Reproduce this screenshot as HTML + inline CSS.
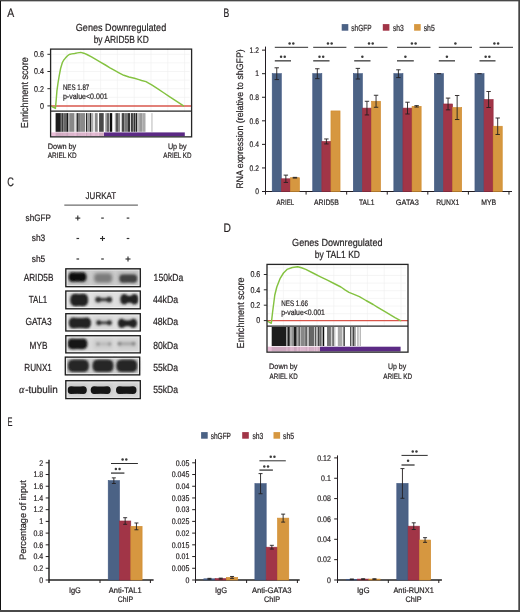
<!DOCTYPE html><html><head><meta charset="utf-8"><style>html,body{margin:0;padding:0;background:#fff;}svg{display:block;font-family:"Liberation Sans",sans-serif;}</style></head><body>
<svg width="520" height="612" viewBox="0 0 520 612" text-rendering="geometricPrecision">
<defs><filter id="bl1" x="-30%" y="-60%" width="160%" height="220%"><feGaussianBlur stdDeviation="1.1"/></filter><filter id="bl2" x="-30%" y="-60%" width="160%" height="220%"><feGaussianBlur stdDeviation="1.6"/></filter><filter id="bl05"><feGaussianBlur stdDeviation="0.35"/></filter></defs>
<rect x="0" y="0" width="520" height="612" fill="#ffffff"/>
<filter id="soft" x="0" y="0" width="520" height="612" filterUnits="userSpaceOnUse"><feGaussianBlur stdDeviation="0.3"/></filter><g filter="url(#soft)">
<text x="7.2" y="17.2" font-size="12.3" text-anchor="start" fill="#231f20" stroke="#231f20" stroke-width="0.2" textLength="6.97" lengthAdjust="spacingAndGlyphs">A</text>
<text x="223.4" y="17.2" font-size="12.3" text-anchor="start" fill="#231f20" stroke="#231f20" stroke-width="0.2" textLength="5.77" lengthAdjust="spacingAndGlyphs">B</text>
<text x="7.2" y="185.7" font-size="12.3" text-anchor="start" fill="#231f20" stroke="#231f20" stroke-width="0.2" textLength="6.62" lengthAdjust="spacingAndGlyphs">C</text>
<text x="223.4" y="231.9" font-size="12.3" text-anchor="start" fill="#231f20" stroke="#231f20" stroke-width="0.2" textLength="7.42" lengthAdjust="spacingAndGlyphs">D</text>
<text x="7.5" y="425.8" font-size="12.3" text-anchor="start" fill="#231f20" stroke="#231f20" stroke-width="0.2" textLength="4.98" lengthAdjust="spacingAndGlyphs">E</text>
<line x1="50.6" y1="54.3" x2="189.6" y2="54.3" stroke="#eeeeee" stroke-width="0.6"/>
<line x1="50.6" y1="62.9" x2="189.6" y2="62.9" stroke="#eeeeee" stroke-width="0.6"/>
<line x1="50.6" y1="71.5" x2="189.6" y2="71.5" stroke="#eeeeee" stroke-width="0.6"/>
<line x1="50.6" y1="80.1" x2="189.6" y2="80.1" stroke="#eeeeee" stroke-width="0.6"/>
<line x1="50.6" y1="88.7" x2="189.6" y2="88.7" stroke="#eeeeee" stroke-width="0.6"/>
<line x1="50.6" y1="97.3" x2="189.6" y2="97.3" stroke="#eeeeee" stroke-width="0.6"/>
<line x1="67" y1="49.1" x2="67" y2="111.1" stroke="#eeeeee" stroke-width="0.6"/>
<line x1="83.8" y1="49.1" x2="83.8" y2="111.1" stroke="#eeeeee" stroke-width="0.6"/>
<line x1="100.6" y1="49.1" x2="100.6" y2="111.1" stroke="#eeeeee" stroke-width="0.6"/>
<line x1="117.4" y1="49.1" x2="117.4" y2="111.1" stroke="#eeeeee" stroke-width="0.6"/>
<line x1="134.2" y1="49.1" x2="134.2" y2="111.1" stroke="#eeeeee" stroke-width="0.6"/>
<line x1="151" y1="49.1" x2="151" y2="111.1" stroke="#eeeeee" stroke-width="0.6"/>
<line x1="167.8" y1="49.1" x2="167.8" y2="111.1" stroke="#eeeeee" stroke-width="0.6"/>
<line x1="184.6" y1="49.1" x2="184.6" y2="111.1" stroke="#eeeeee" stroke-width="0.6"/>
<line x1="50.6" y1="106" x2="191.6" y2="106" stroke="#d9564c" stroke-width="1.3"/>
<polyline points="51,106 53,107.2 55.4,108.4 56.2,100 56.9,91.2 58,83 59.2,75.8 60.6,68.5 62.3,62.7 63.8,60 65.4,58.1 67.3,56 69.2,54.5 71.8,53.9 74.6,53.5 77.5,52.9 80.8,52.4 83.8,53.2 86.9,54.5 91.5,56.9 96.2,59.6 100.8,62.3 105.4,65 110,67.8 114.6,70.4 119,72.8 123.8,75.3 129,77 134.4,78.3 139,79.6 141.6,80.5 146,81.6 149,83.3 151.7,84.8 157.5,88.6 163.3,92.5 169,96.3 174.8,100.1 179,102.9 183.5,105.9" fill="none" stroke="#84c241" stroke-width="1.45" stroke-linejoin="round" stroke-linecap="round"/>
<rect x="55.6" y="113.1" width="5.2" height="18.7" fill="#1c1c1c"/>
<rect x="60.8" y="113.1" width="0.8" height="18.7" fill="#555"/>
<rect x="61.6" y="113.1" width="1.9" height="18.7" fill="#3a3a3a"/>
<rect x="63.5" y="113.1" width="2.9" height="18.7" fill="#666"/>
<rect x="66.4" y="113.1" width="1.9" height="18.7" fill="#161616"/>
<rect x="68.3" y="113.1" width="1" height="18.7" fill="#aaa"/>
<rect x="69.3" y="113.1" width="4.8" height="18.7" fill="#888"/>
<rect x="74.1" y="113.1" width="1.5" height="18.7" fill="#c8c8c8"/>
<rect x="76.5" y="113.1" width="1.5" height="18.7" fill="#333"/>
<rect x="78" y="113.1" width="2.8" height="18.7" fill="#777"/>
<rect x="80.8" y="113.1" width="4.4" height="18.7" fill="#8a8a8a"/>
<rect x="86.1" y="113.1" width="1" height="18.7" fill="#111"/>
<rect x="87.1" y="113.1" width="2.9" height="18.7" fill="#999"/>
<rect x="90" y="113.1" width="1.4" height="18.7" fill="#2a2a2a"/>
<rect x="91.4" y="113.1" width="1.9" height="18.7" fill="#aaa"/>
<rect x="94.8" y="113.1" width="2.9" height="18.7" fill="#888"/>
<rect x="99.1" y="113.1" width="0.9" height="18.7" fill="#444"/>
<rect x="100" y="113.1" width="3.7" height="18.7" fill="#484848"/>
<rect x="105.3" y="113.1" width="1.6" height="18.7" fill="#999"/>
<rect x="106.9" y="113.1" width="2.6" height="18.7" fill="#666"/>
<rect x="110" y="113.1" width="2.2" height="18.7" fill="#111"/>
<rect x="114.8" y="113.1" width="1.1" height="18.7" fill="#aaa"/>
<rect x="115.9" y="113.1" width="2.1" height="18.7" fill="#555"/>
<rect x="118" y="113.1" width="2.1" height="18.7" fill="#888"/>
<rect x="121.7" y="113.1" width="2.6" height="18.7" fill="#444"/>
<rect x="124.3" y="113.1" width="3.7" height="18.7" fill="#777"/>
<rect x="128" y="113.1" width="2.2" height="18.7" fill="#333"/>
<rect x="131.2" y="113.1" width="1.6" height="18.7" fill="#111"/>
<rect x="132.8" y="113.1" width="1.1" height="18.7" fill="#888"/>
<rect x="133.9" y="113.1" width="1" height="18.7" fill="#111"/>
<rect x="134.9" y="113.1" width="1.1" height="18.7" fill="#888"/>
<rect x="136" y="113.1" width="1" height="18.7" fill="#222"/>
<rect x="137" y="113.1" width="2.2" height="18.7" fill="#bbb"/>
<rect x="139.2" y="113.1" width="3.1" height="18.7" fill="#999"/>
<rect x="142.3" y="113.1" width="3.2" height="18.7" fill="#aaa"/>
<rect x="151.3" y="113.1" width="1.3" height="18.7" fill="#c8c8c8"/>
<rect x="51.2" y="132.4" width="52.8" height="3.8" fill="#e9bdd7"/>
<rect x="55.6" y="132.4" width="5.2" height="3.8" fill="#1c1c1c" opacity="0.13"/>
<rect x="60.8" y="132.4" width="0.8" height="3.8" fill="#555" opacity="0.13"/>
<rect x="61.6" y="132.4" width="1.9" height="3.8" fill="#3a3a3a" opacity="0.13"/>
<rect x="63.5" y="132.4" width="2.9" height="3.8" fill="#666" opacity="0.13"/>
<rect x="66.4" y="132.4" width="1.9" height="3.8" fill="#161616" opacity="0.13"/>
<rect x="68.3" y="132.4" width="1" height="3.8" fill="#aaa" opacity="0.13"/>
<rect x="69.3" y="132.4" width="4.8" height="3.8" fill="#888" opacity="0.13"/>
<rect x="74.1" y="132.4" width="1.5" height="3.8" fill="#c8c8c8" opacity="0.13"/>
<rect x="76.5" y="132.4" width="1.5" height="3.8" fill="#333" opacity="0.13"/>
<rect x="78" y="132.4" width="2.8" height="3.8" fill="#777" opacity="0.13"/>
<rect x="80.8" y="132.4" width="4.4" height="3.8" fill="#8a8a8a" opacity="0.13"/>
<rect x="86.1" y="132.4" width="1" height="3.8" fill="#111" opacity="0.13"/>
<rect x="87.1" y="132.4" width="2.9" height="3.8" fill="#999" opacity="0.13"/>
<rect x="90" y="132.4" width="1.4" height="3.8" fill="#2a2a2a" opacity="0.13"/>
<rect x="91.4" y="132.4" width="1.9" height="3.8" fill="#aaa" opacity="0.13"/>
<rect x="94.8" y="132.4" width="2.9" height="3.8" fill="#888" opacity="0.13"/>
<rect x="99.1" y="132.4" width="0.9" height="3.8" fill="#444" opacity="0.13"/>
<rect x="100" y="132.4" width="3.7" height="3.8" fill="#484848" opacity="0.13"/>
<rect x="104" y="132.4" width="80.8" height="3.8" fill="#5b2c85"/>
<rect x="50.6" y="49.1" width="141" height="87.75" fill="none" stroke="#262626" stroke-width="1.3"/>
<line x1="50.6" y1="111.1" x2="191.6" y2="111.1" stroke="#262626" stroke-width="1.4"/>
<line x1="47.4" y1="54.3" x2="50.6" y2="54.3" stroke="#2b2b2b" stroke-width="1"/>
<text x="43.9" y="57.15" font-size="8.48" text-anchor="end" fill="#231f20" stroke="#231f20" stroke-width="0.2" textLength="9.9" lengthAdjust="spacingAndGlyphs">0.6</text>
<line x1="47.4" y1="71.5" x2="50.6" y2="71.5" stroke="#2b2b2b" stroke-width="1"/>
<text x="43.9" y="74.35" font-size="8.48" text-anchor="end" fill="#231f20" stroke="#231f20" stroke-width="0.2" textLength="9.9" lengthAdjust="spacingAndGlyphs">0.4</text>
<line x1="47.4" y1="88.7" x2="50.6" y2="88.7" stroke="#2b2b2b" stroke-width="1"/>
<text x="43.9" y="91.55" font-size="8.48" text-anchor="end" fill="#231f20" stroke="#231f20" stroke-width="0.2" textLength="9.9" lengthAdjust="spacingAndGlyphs">0.2</text>
<line x1="47.4" y1="105.9" x2="50.6" y2="105.9" stroke="#2b2b2b" stroke-width="1"/>
<text x="43.9" y="108.75" font-size="8.48" text-anchor="end" fill="#231f20" stroke="#231f20" stroke-width="0.2" textLength="3.96" lengthAdjust="spacingAndGlyphs">0</text>
<text x="62.9" y="89.6" font-size="7.95" text-anchor="start" fill="#231f20" stroke="#231f20" stroke-width="0.2" textLength="26.4" lengthAdjust="spacingAndGlyphs">NES 1.87</text>
<text x="62.9" y="98.6" font-size="7.95" text-anchor="start" fill="#231f20" stroke="#231f20" stroke-width="0.2" textLength="44.87" lengthAdjust="spacingAndGlyphs">p-value&lt;0.001</text>
<text x="75.8" y="31.3" font-size="10.28" text-anchor="start" fill="#231f20" stroke="#231f20" stroke-width="0.2" textLength="90.4" lengthAdjust="spacingAndGlyphs">Genes Downregulated</text>
<text x="93.7" y="43" font-size="10.28" text-anchor="start" fill="#231f20" stroke="#231f20" stroke-width="0.2" textLength="55.08" lengthAdjust="spacingAndGlyphs">by ARID5B KD</text>
<text x="47.8" y="148.8" font-size="7.84" text-anchor="start" fill="#231f20" stroke="#231f20" stroke-width="0.2" textLength="28.5" lengthAdjust="spacingAndGlyphs">Down by</text>
<text x="47.8" y="157.7" font-size="7.84" text-anchor="start" fill="#231f20" stroke="#231f20" stroke-width="0.2" textLength="28.9" lengthAdjust="spacingAndGlyphs">ARIEL KD</text>
<text x="167.9" y="148.8" font-size="7.84" text-anchor="start" fill="#231f20" stroke="#231f20" stroke-width="0.2" textLength="18.82" lengthAdjust="spacingAndGlyphs">Up by</text>
<text x="163.3" y="157.7" font-size="7.84" text-anchor="start" fill="#231f20" stroke="#231f20" stroke-width="0.2" textLength="28.2" lengthAdjust="spacingAndGlyphs">ARIEL KD</text>
<text x="28" y="92.7" font-size="10.18" text-anchor="middle" fill="#231f20" stroke="#231f20" stroke-width="0.2" transform="rotate(-90 28 92.7)" textLength="71" lengthAdjust="spacingAndGlyphs">Enrichment score</text>
<line x1="267" y1="267.8" x2="406" y2="267.8" stroke="#eeeeee" stroke-width="0.6"/>
<line x1="267" y1="275.45" x2="406" y2="275.45" stroke="#eeeeee" stroke-width="0.6"/>
<line x1="267" y1="283.1" x2="406" y2="283.1" stroke="#eeeeee" stroke-width="0.6"/>
<line x1="267" y1="290.75" x2="406" y2="290.75" stroke="#eeeeee" stroke-width="0.6"/>
<line x1="267" y1="298.4" x2="406" y2="298.4" stroke="#eeeeee" stroke-width="0.6"/>
<line x1="267" y1="306.05" x2="406" y2="306.05" stroke="#eeeeee" stroke-width="0.6"/>
<line x1="267" y1="313.7" x2="406" y2="313.7" stroke="#eeeeee" stroke-width="0.6"/>
<line x1="283.4" y1="264.4" x2="283.4" y2="326.1" stroke="#eeeeee" stroke-width="0.6"/>
<line x1="300.2" y1="264.4" x2="300.2" y2="326.1" stroke="#eeeeee" stroke-width="0.6"/>
<line x1="317" y1="264.4" x2="317" y2="326.1" stroke="#eeeeee" stroke-width="0.6"/>
<line x1="333.8" y1="264.4" x2="333.8" y2="326.1" stroke="#eeeeee" stroke-width="0.6"/>
<line x1="350.6" y1="264.4" x2="350.6" y2="326.1" stroke="#eeeeee" stroke-width="0.6"/>
<line x1="367.4" y1="264.4" x2="367.4" y2="326.1" stroke="#eeeeee" stroke-width="0.6"/>
<line x1="384.2" y1="264.4" x2="384.2" y2="326.1" stroke="#eeeeee" stroke-width="0.6"/>
<line x1="401" y1="264.4" x2="401" y2="326.1" stroke="#eeeeee" stroke-width="0.6"/>
<line x1="267" y1="320.7" x2="408" y2="320.7" stroke="#d9564c" stroke-width="1.3"/>
<polyline points="267.5,321 269.5,322.4 271.3,323.3 272.6,312 274.8,295 276.8,287 280.2,278.3 283.5,273 287,269.4 292.3,267.5 297.7,266.7 301.5,267.8 305.8,269.4 313.9,273.5 320.5,276.8 327.4,280.2 334,283.5 340.9,287 345,289.8 349,292.3 354,294.3 359.4,296.6 366,300.5 373.2,304.5 376.9,306.8 386.7,312.6 390.4,314.9 395,317.6 400.5,320.6" fill="none" stroke="#84c241" stroke-width="1.45" stroke-linejoin="round" stroke-linecap="round"/>
<rect x="271.7" y="327" width="14.6" height="19" fill="#1c1c1c"/>
<rect x="286.3" y="327" width="1.2" height="19" fill="#999"/>
<rect x="287.5" y="327" width="2.3" height="19" fill="#1c1c1c"/>
<rect x="289.8" y="327" width="0.7" height="19" fill="#777"/>
<rect x="290.5" y="327" width="1.6" height="19" fill="#aaa"/>
<rect x="292.1" y="327" width="1.9" height="19" fill="#888"/>
<rect x="294" y="327" width="2.7" height="19" fill="#1a1a1a"/>
<rect x="296.7" y="327" width="1.9" height="19" fill="#aaa"/>
<rect x="298.6" y="327" width="1.2" height="19" fill="#222"/>
<rect x="299.8" y="327" width="1.1" height="19" fill="#bbb"/>
<rect x="300.9" y="327" width="3.5" height="19" fill="#888"/>
<rect x="304.4" y="327" width="1.9" height="19" fill="#777"/>
<rect x="306.3" y="327" width="0.8" height="19" fill="#333"/>
<rect x="307.1" y="327" width="1.9" height="19" fill="#bbb"/>
<rect x="309" y="327" width="0.8" height="19" fill="#333"/>
<rect x="309.8" y="327" width="4.2" height="19" fill="#666"/>
<rect x="314" y="327" width="1.2" height="19" fill="#c4c4c4"/>
<rect x="315.2" y="327" width="0.8" height="19" fill="#333"/>
<rect x="316" y="327" width="1.8" height="19" fill="#bbb"/>
<rect x="317.8" y="327" width="1.6" height="19" fill="#444"/>
<rect x="319.4" y="327" width="2.3" height="19" fill="#666"/>
<rect x="321.7" y="327" width="1.1" height="19" fill="#bbb"/>
<rect x="322.8" y="327" width="1.4" height="19" fill="#111"/>
<rect x="327" y="327" width="3.5" height="19" fill="#777"/>
<rect x="330.5" y="327" width="0.7" height="19" fill="#444"/>
<rect x="331.2" y="327" width="0.8" height="19" fill="#ccc"/>
<rect x="332" y="327" width="1.2" height="19" fill="#888"/>
<rect x="333.2" y="327" width="1.1" height="19" fill="#555"/>
<rect x="334.3" y="327" width="1.2" height="19" fill="#ccc"/>
<rect x="337.8" y="327" width="4.6" height="19" fill="#aaa"/>
<rect x="343.5" y="327" width="1.2" height="19" fill="#111"/>
<rect x="350" y="327" width="1.2" height="19" fill="#555"/>
<rect x="351.2" y="327" width="1.6" height="19" fill="#aaa"/>
<rect x="352.8" y="327" width="1.2" height="19" fill="#444"/>
<rect x="354" y="327" width="1.8" height="19" fill="#999"/>
<rect x="357.4" y="327" width="1.1" height="19" fill="#999"/>
<rect x="359.7" y="327" width="1.1" height="19" fill="#aaa"/>
<rect x="267.6" y="346.7" width="52.4" height="4.8" fill="#e9bdd7"/>
<rect x="271.7" y="346.7" width="14.6" height="4.8" fill="#1c1c1c" opacity="0.13"/>
<rect x="286.3" y="346.7" width="1.2" height="4.8" fill="#999" opacity="0.13"/>
<rect x="287.5" y="346.7" width="2.3" height="4.8" fill="#1c1c1c" opacity="0.13"/>
<rect x="289.8" y="346.7" width="0.7" height="4.8" fill="#777" opacity="0.13"/>
<rect x="290.5" y="346.7" width="1.6" height="4.8" fill="#aaa" opacity="0.13"/>
<rect x="292.1" y="346.7" width="1.9" height="4.8" fill="#888" opacity="0.13"/>
<rect x="294" y="346.7" width="2.7" height="4.8" fill="#1a1a1a" opacity="0.13"/>
<rect x="296.7" y="346.7" width="1.9" height="4.8" fill="#aaa" opacity="0.13"/>
<rect x="298.6" y="346.7" width="1.2" height="4.8" fill="#222" opacity="0.13"/>
<rect x="299.8" y="346.7" width="1.1" height="4.8" fill="#bbb" opacity="0.13"/>
<rect x="300.9" y="346.7" width="3.5" height="4.8" fill="#888" opacity="0.13"/>
<rect x="304.4" y="346.7" width="1.9" height="4.8" fill="#777" opacity="0.13"/>
<rect x="306.3" y="346.7" width="0.8" height="4.8" fill="#333" opacity="0.13"/>
<rect x="307.1" y="346.7" width="1.9" height="4.8" fill="#bbb" opacity="0.13"/>
<rect x="309" y="346.7" width="0.8" height="4.8" fill="#333" opacity="0.13"/>
<rect x="309.8" y="346.7" width="4.2" height="4.8" fill="#666" opacity="0.13"/>
<rect x="314" y="346.7" width="1.2" height="4.8" fill="#c4c4c4" opacity="0.13"/>
<rect x="315.2" y="346.7" width="0.8" height="4.8" fill="#333" opacity="0.13"/>
<rect x="316" y="346.7" width="1.8" height="4.8" fill="#bbb" opacity="0.13"/>
<rect x="317.8" y="346.7" width="1.6" height="4.8" fill="#444" opacity="0.13"/>
<rect x="319.4" y="346.7" width="0.6" height="4.8" fill="#666" opacity="0.13"/>
<rect x="320" y="346.7" width="80.6" height="4.8" fill="#5b2c85"/>
<rect x="267" y="264.4" width="141" height="87.75" fill="none" stroke="#262626" stroke-width="1.3"/>
<line x1="267" y1="326.1" x2="408" y2="326.1" stroke="#262626" stroke-width="1.4"/>
<line x1="263.8" y1="274.5" x2="267" y2="274.5" stroke="#2b2b2b" stroke-width="1"/>
<text x="260.3" y="277.35" font-size="8.48" text-anchor="end" fill="#231f20" stroke="#231f20" stroke-width="0.2" textLength="9.9" lengthAdjust="spacingAndGlyphs">0.6</text>
<line x1="263.8" y1="289.8" x2="267" y2="289.8" stroke="#2b2b2b" stroke-width="1"/>
<text x="260.3" y="292.65" font-size="8.48" text-anchor="end" fill="#231f20" stroke="#231f20" stroke-width="0.2" textLength="9.9" lengthAdjust="spacingAndGlyphs">0.4</text>
<line x1="263.8" y1="305.2" x2="267" y2="305.2" stroke="#2b2b2b" stroke-width="1"/>
<text x="260.3" y="308.05" font-size="8.48" text-anchor="end" fill="#231f20" stroke="#231f20" stroke-width="0.2" textLength="9.9" lengthAdjust="spacingAndGlyphs">0.2</text>
<line x1="263.8" y1="320.6" x2="267" y2="320.6" stroke="#2b2b2b" stroke-width="1"/>
<text x="260.3" y="323.45" font-size="8.48" text-anchor="end" fill="#231f20" stroke="#231f20" stroke-width="0.2" textLength="3.96" lengthAdjust="spacingAndGlyphs">0</text>
<text x="281.2" y="305.6" font-size="7.95" text-anchor="start" fill="#231f20" stroke="#231f20" stroke-width="0.2" textLength="26.8" lengthAdjust="spacingAndGlyphs">NES 1.66</text>
<text x="281.2" y="314.6" font-size="7.95" text-anchor="start" fill="#231f20" stroke="#231f20" stroke-width="0.2" textLength="43.77" lengthAdjust="spacingAndGlyphs">p-value&lt;0.001</text>
<text x="292.1" y="245.8" font-size="10.28" text-anchor="start" fill="#231f20" stroke="#231f20" stroke-width="0.2" textLength="90.4" lengthAdjust="spacingAndGlyphs">Genes Downregulated</text>
<text x="314.8" y="257.6" font-size="10.28" text-anchor="start" fill="#231f20" stroke="#231f20" stroke-width="0.2" textLength="45.19" lengthAdjust="spacingAndGlyphs">by TAL1 KD</text>
<text x="269.1" y="368.9" font-size="7.84" text-anchor="start" fill="#231f20" stroke="#231f20" stroke-width="0.2" textLength="28.4" lengthAdjust="spacingAndGlyphs">Down by</text>
<text x="269.6" y="378.6" font-size="7.84" text-anchor="start" fill="#231f20" stroke="#231f20" stroke-width="0.2" textLength="28.1" lengthAdjust="spacingAndGlyphs">ARIEL KD</text>
<text x="387.98" y="368.9" font-size="7.84" text-anchor="start" fill="#231f20" stroke="#231f20" stroke-width="0.2" textLength="18.27" lengthAdjust="spacingAndGlyphs">Up by</text>
<text x="383.2" y="378.6" font-size="7.84" text-anchor="start" fill="#231f20" stroke="#231f20" stroke-width="0.2" textLength="28.8" lengthAdjust="spacingAndGlyphs">ARIEL KD</text>
<text x="244.2" y="312.9" font-size="10.18" text-anchor="middle" fill="#231f20" stroke="#231f20" stroke-width="0.2" transform="rotate(-90 244.2 312.9)" textLength="71" lengthAdjust="spacingAndGlyphs">Enrichment score</text>
<line x1="265.5" y1="46.6" x2="265.5" y2="194.6" stroke="#231f20" stroke-width="1"/>
<line x1="262" y1="191.5" x2="512" y2="191.5" stroke="#231f20" stroke-width="1"/>
<line x1="262" y1="191.5" x2="265.5" y2="191.5" stroke="#231f20" stroke-width="1"/>
<text x="258.9" y="194.25" font-size="8.16" text-anchor="end" fill="#231f20" stroke="#231f20" stroke-width="0.2" textLength="3.73" lengthAdjust="spacingAndGlyphs">0</text>
<line x1="262" y1="167.94" x2="265.5" y2="167.94" stroke="#231f20" stroke-width="1"/>
<text x="258.9" y="170.69" font-size="8.16" text-anchor="end" fill="#231f20" stroke="#231f20" stroke-width="0.2" textLength="9.31" lengthAdjust="spacingAndGlyphs">0.2</text>
<line x1="262" y1="144.38" x2="265.5" y2="144.38" stroke="#231f20" stroke-width="1"/>
<text x="258.9" y="147.13" font-size="8.16" text-anchor="end" fill="#231f20" stroke="#231f20" stroke-width="0.2" textLength="9.31" lengthAdjust="spacingAndGlyphs">0.4</text>
<line x1="262" y1="120.82" x2="265.5" y2="120.82" stroke="#231f20" stroke-width="1"/>
<text x="258.9" y="123.57" font-size="8.16" text-anchor="end" fill="#231f20" stroke="#231f20" stroke-width="0.2" textLength="9.31" lengthAdjust="spacingAndGlyphs">0.6</text>
<line x1="262" y1="97.26" x2="265.5" y2="97.26" stroke="#231f20" stroke-width="1"/>
<text x="258.9" y="100.01" font-size="8.16" text-anchor="end" fill="#231f20" stroke="#231f20" stroke-width="0.2" textLength="9.31" lengthAdjust="spacingAndGlyphs">0.8</text>
<line x1="262" y1="73.7" x2="265.5" y2="73.7" stroke="#231f20" stroke-width="1"/>
<text x="258.9" y="76.45" font-size="8.16" text-anchor="end" fill="#231f20" stroke="#231f20" stroke-width="0.2" textLength="3.73" lengthAdjust="spacingAndGlyphs">1</text>
<line x1="262" y1="50.14" x2="265.5" y2="50.14" stroke="#231f20" stroke-width="1"/>
<text x="258.9" y="52.89" font-size="8.16" text-anchor="end" fill="#231f20" stroke="#231f20" stroke-width="0.2" textLength="9.31" lengthAdjust="spacingAndGlyphs">1.2</text>
<line x1="306.08" y1="191.5" x2="306.08" y2="194.6" stroke="#231f20" stroke-width="1"/>
<line x1="346.66" y1="191.5" x2="346.66" y2="194.6" stroke="#231f20" stroke-width="1"/>
<line x1="387.24" y1="191.5" x2="387.24" y2="194.6" stroke="#231f20" stroke-width="1"/>
<line x1="427.82" y1="191.5" x2="427.82" y2="194.6" stroke="#231f20" stroke-width="1"/>
<line x1="468.4" y1="191.5" x2="468.4" y2="194.6" stroke="#231f20" stroke-width="1"/>
<line x1="508.98" y1="191.5" x2="508.98" y2="194.6" stroke="#231f20" stroke-width="1"/>
<rect x="272.2" y="73.7" width="9.1" height="117.8" fill="#4c6285" stroke="#3e5680" stroke-width="0.6"/>
<line x1="276.75" y1="67.81" x2="276.75" y2="79.59" stroke="#231f20" stroke-width="0.9"/>
<line x1="274.55" y1="67.81" x2="278.95" y2="67.81" stroke="#231f20" stroke-width="0.9"/>
<line x1="274.55" y1="79.59" x2="278.95" y2="79.59" stroke="#231f20" stroke-width="0.9"/>
<rect x="281.3" y="178.78" width="9.1" height="12.72" fill="#a13547" stroke="#952c40" stroke-width="0.6"/>
<line x1="285.85" y1="175.13" x2="285.85" y2="182.43" stroke="#231f20" stroke-width="0.9"/>
<line x1="283.65" y1="175.13" x2="288.05" y2="175.13" stroke="#231f20" stroke-width="0.9"/>
<line x1="283.65" y1="182.43" x2="288.05" y2="182.43" stroke="#231f20" stroke-width="0.9"/>
<rect x="290.4" y="177.72" width="9.1" height="13.78" fill="#d6973f" stroke="#d08a2c" stroke-width="0.6"/>
<line x1="294.95" y1="177.36" x2="294.95" y2="178.07" stroke="#231f20" stroke-width="0.9"/>
<line x1="292.75" y1="177.36" x2="297.15" y2="177.36" stroke="#231f20" stroke-width="0.9"/>
<line x1="292.75" y1="178.07" x2="297.15" y2="178.07" stroke="#231f20" stroke-width="0.9"/>
<rect x="312.75" y="73.7" width="9.1" height="117.8" fill="#4c6285" stroke="#3e5680" stroke-width="0.6"/>
<line x1="317.3" y1="68.75" x2="317.3" y2="78.65" stroke="#231f20" stroke-width="0.9"/>
<line x1="315.1" y1="68.75" x2="319.5" y2="68.75" stroke="#231f20" stroke-width="0.9"/>
<line x1="315.1" y1="78.65" x2="319.5" y2="78.65" stroke="#231f20" stroke-width="0.9"/>
<rect x="321.85" y="141.44" width="9.1" height="50.06" fill="#a13547" stroke="#952c40" stroke-width="0.6"/>
<line x1="326.4" y1="138.96" x2="326.4" y2="143.91" stroke="#231f20" stroke-width="0.9"/>
<line x1="324.2" y1="138.96" x2="328.6" y2="138.96" stroke="#231f20" stroke-width="0.9"/>
<line x1="324.2" y1="143.91" x2="328.6" y2="143.91" stroke="#231f20" stroke-width="0.9"/>
<rect x="330.95" y="110.92" width="9.1" height="80.58" fill="#d6973f" stroke="#d08a2c" stroke-width="0.6"/>
<rect x="353.3" y="73.7" width="9.1" height="117.8" fill="#4c6285" stroke="#3e5680" stroke-width="0.6"/>
<line x1="357.85" y1="68.4" x2="357.85" y2="79" stroke="#231f20" stroke-width="0.9"/>
<line x1="355.65" y1="68.4" x2="360.05" y2="68.4" stroke="#231f20" stroke-width="0.9"/>
<line x1="355.65" y1="79" x2="360.05" y2="79" stroke="#231f20" stroke-width="0.9"/>
<rect x="362.4" y="108.1" width="9.1" height="83.4" fill="#a13547" stroke="#952c40" stroke-width="0.6"/>
<line x1="366.95" y1="101.27" x2="366.95" y2="114.93" stroke="#231f20" stroke-width="0.9"/>
<line x1="364.75" y1="101.27" x2="369.15" y2="101.27" stroke="#231f20" stroke-width="0.9"/>
<line x1="364.75" y1="114.93" x2="369.15" y2="114.93" stroke="#231f20" stroke-width="0.9"/>
<rect x="371.5" y="101.27" width="9.1" height="90.23" fill="#d6973f" stroke="#d08a2c" stroke-width="0.6"/>
<line x1="376.05" y1="95.26" x2="376.05" y2="107.27" stroke="#231f20" stroke-width="0.9"/>
<line x1="373.85" y1="95.26" x2="378.25" y2="95.26" stroke="#231f20" stroke-width="0.9"/>
<line x1="373.85" y1="107.27" x2="378.25" y2="107.27" stroke="#231f20" stroke-width="0.9"/>
<rect x="393.85" y="73.7" width="9.1" height="117.8" fill="#4c6285" stroke="#3e5680" stroke-width="0.6"/>
<line x1="398.4" y1="69.81" x2="398.4" y2="77.59" stroke="#231f20" stroke-width="0.9"/>
<line x1="396.2" y1="69.81" x2="400.6" y2="69.81" stroke="#231f20" stroke-width="0.9"/>
<line x1="396.2" y1="77.59" x2="400.6" y2="77.59" stroke="#231f20" stroke-width="0.9"/>
<rect x="402.95" y="108.1" width="9.1" height="83.4" fill="#a13547" stroke="#952c40" stroke-width="0.6"/>
<line x1="407.5" y1="102.21" x2="407.5" y2="113.99" stroke="#231f20" stroke-width="0.9"/>
<line x1="405.3" y1="102.21" x2="409.7" y2="102.21" stroke="#231f20" stroke-width="0.9"/>
<line x1="405.3" y1="113.99" x2="409.7" y2="113.99" stroke="#231f20" stroke-width="0.9"/>
<rect x="412.05" y="106.33" width="9.1" height="85.17" fill="#d6973f" stroke="#d08a2c" stroke-width="0.6"/>
<line x1="416.6" y1="105.62" x2="416.6" y2="107.04" stroke="#231f20" stroke-width="0.9"/>
<line x1="414.4" y1="105.62" x2="418.8" y2="105.62" stroke="#231f20" stroke-width="0.9"/>
<line x1="414.4" y1="107.04" x2="418.8" y2="107.04" stroke="#231f20" stroke-width="0.9"/>
<rect x="434.4" y="73.7" width="9.1" height="117.8" fill="#4c6285" stroke="#3e5680" stroke-width="0.6"/>
<line x1="436.75" y1="73.7" x2="441.15" y2="73.7" stroke="#231f20" stroke-width="0.9"/>
<rect x="443.5" y="103.97" width="9.1" height="87.53" fill="#a13547" stroke="#952c40" stroke-width="0.6"/>
<line x1="448.05" y1="98.08" x2="448.05" y2="109.86" stroke="#231f20" stroke-width="0.9"/>
<line x1="445.85" y1="98.08" x2="450.25" y2="98.08" stroke="#231f20" stroke-width="0.9"/>
<line x1="445.85" y1="109.86" x2="450.25" y2="109.86" stroke="#231f20" stroke-width="0.9"/>
<rect x="452.6" y="107.51" width="9.1" height="83.99" fill="#d6973f" stroke="#d08a2c" stroke-width="0.6"/>
<line x1="457.15" y1="95.49" x2="457.15" y2="119.52" stroke="#231f20" stroke-width="0.9"/>
<line x1="454.95" y1="95.49" x2="459.35" y2="95.49" stroke="#231f20" stroke-width="0.9"/>
<line x1="454.95" y1="119.52" x2="459.35" y2="119.52" stroke="#231f20" stroke-width="0.9"/>
<rect x="474.95" y="73.7" width="9.1" height="117.8" fill="#4c6285" stroke="#3e5680" stroke-width="0.6"/>
<line x1="477.3" y1="73.7" x2="481.7" y2="73.7" stroke="#231f20" stroke-width="0.9"/>
<rect x="484.05" y="99.5" width="9.1" height="92" fill="#a13547" stroke="#952c40" stroke-width="0.6"/>
<line x1="488.6" y1="91.49" x2="488.6" y2="107.51" stroke="#231f20" stroke-width="0.9"/>
<line x1="486.4" y1="91.49" x2="490.8" y2="91.49" stroke="#231f20" stroke-width="0.9"/>
<line x1="486.4" y1="107.51" x2="490.8" y2="107.51" stroke="#231f20" stroke-width="0.9"/>
<rect x="493.15" y="126.24" width="9.1" height="65.26" fill="#d6973f" stroke="#d08a2c" stroke-width="0.6"/>
<line x1="497.7" y1="117.99" x2="497.7" y2="134.48" stroke="#231f20" stroke-width="0.9"/>
<line x1="495.5" y1="117.99" x2="499.9" y2="117.99" stroke="#231f20" stroke-width="0.9"/>
<line x1="495.5" y1="134.48" x2="499.9" y2="134.48" stroke="#231f20" stroke-width="0.9"/>
<text x="276.5" y="204.5" font-size="7.84" text-anchor="start" fill="#231f20" stroke="#231f20" stroke-width="0.2" textLength="17.7" lengthAdjust="spacingAndGlyphs">ARIEL</text>
<text x="313.9" y="204.5" font-size="7.84" text-anchor="start" fill="#231f20" stroke="#231f20" stroke-width="0.2" textLength="24.92" lengthAdjust="spacingAndGlyphs">ARID5B</text>
<text x="358.9" y="204.5" font-size="7.84" text-anchor="start" fill="#231f20" stroke="#231f20" stroke-width="0.2" textLength="15.47" lengthAdjust="spacingAndGlyphs">TAL1</text>
<text x="395.8" y="204.5" font-size="7.84" text-anchor="start" fill="#231f20" stroke="#231f20" stroke-width="0.2" textLength="23.1" lengthAdjust="spacingAndGlyphs">GATA3</text>
<text x="436.2" y="204.5" font-size="7.84" text-anchor="start" fill="#231f20" stroke="#231f20" stroke-width="0.2" textLength="23.1" lengthAdjust="spacingAndGlyphs">RUNX1</text>
<text x="481.2" y="204.5" font-size="7.84" text-anchor="start" fill="#231f20" stroke="#231f20" stroke-width="0.2" textLength="14.98" lengthAdjust="spacingAndGlyphs">MYB</text>
<line x1="274.8" y1="47.3" x2="308.1" y2="47.3" stroke="#2e2e2e" stroke-width="1"/>
<circle cx="289.6" cy="43.4" r="1.25" fill="#3a3a3a"/>
<circle cx="293.3" cy="43.4" r="1.25" fill="#3a3a3a"/>
<line x1="274.8" y1="60.8" x2="291" y2="60.8" stroke="#5e5e5e" stroke-width="1.6"/>
<circle cx="281.05" cy="56.7" r="1.25" fill="#3a3a3a"/>
<circle cx="284.75" cy="56.7" r="1.25" fill="#3a3a3a"/>
<line x1="313.2" y1="47.3" x2="346.4" y2="47.3" stroke="#2e2e2e" stroke-width="1"/>
<circle cx="327.95" cy="43.4" r="1.25" fill="#3a3a3a"/>
<circle cx="331.65" cy="43.4" r="1.25" fill="#3a3a3a"/>
<line x1="313.2" y1="60.8" x2="329.5" y2="60.8" stroke="#5e5e5e" stroke-width="1.6"/>
<circle cx="319.5" cy="56.7" r="1.25" fill="#3a3a3a"/>
<circle cx="323.2" cy="56.7" r="1.25" fill="#3a3a3a"/>
<line x1="354.2" y1="47.3" x2="387.5" y2="47.3" stroke="#2e2e2e" stroke-width="1"/>
<circle cx="369" cy="43.4" r="1.25" fill="#3a3a3a"/>
<circle cx="372.7" cy="43.4" r="1.25" fill="#3a3a3a"/>
<line x1="354.2" y1="60.8" x2="370.5" y2="60.8" stroke="#5e5e5e" stroke-width="1.6"/>
<circle cx="362.35" cy="56.7" r="1.25" fill="#3a3a3a"/>
<line x1="397" y1="47.3" x2="430.5" y2="47.3" stroke="#2e2e2e" stroke-width="1"/>
<circle cx="411.9" cy="43.4" r="1.25" fill="#3a3a3a"/>
<circle cx="415.6" cy="43.4" r="1.25" fill="#3a3a3a"/>
<line x1="397" y1="60.8" x2="413.8" y2="60.8" stroke="#5e5e5e" stroke-width="1.6"/>
<circle cx="405.4" cy="56.7" r="1.25" fill="#3a3a3a"/>
<line x1="438.8" y1="47.3" x2="472" y2="47.3" stroke="#2e2e2e" stroke-width="1"/>
<circle cx="455.4" cy="43.4" r="1.25" fill="#3a3a3a"/>
<line x1="438.8" y1="60.8" x2="455" y2="60.8" stroke="#5e5e5e" stroke-width="1.6"/>
<circle cx="446.9" cy="56.7" r="1.25" fill="#3a3a3a"/>
<line x1="479.5" y1="47.3" x2="513" y2="47.3" stroke="#2e2e2e" stroke-width="1"/>
<circle cx="494.4" cy="43.4" r="1.25" fill="#3a3a3a"/>
<circle cx="498.1" cy="43.4" r="1.25" fill="#3a3a3a"/>
<line x1="479.5" y1="60.8" x2="495.5" y2="60.8" stroke="#5e5e5e" stroke-width="1.6"/>
<circle cx="485.65" cy="56.7" r="1.25" fill="#3a3a3a"/>
<circle cx="489.35" cy="56.7" r="1.25" fill="#3a3a3a"/>
<text x="243.3" y="119" font-size="9.54" text-anchor="middle" fill="#231f20" stroke="#231f20" stroke-width="0.2" transform="rotate(-90 243.3 119)" textLength="139.5" lengthAdjust="spacingAndGlyphs">RNA expression (relative to shGFP)</text>
<rect x="341.7" y="24.1" width="6.6" height="6.6" fill="#4c6285"/>
<text x="351.35" y="30.5" font-size="8.9" text-anchor="start" fill="#231f20" stroke="#231f20" stroke-width="0.2" textLength="20.21" lengthAdjust="spacingAndGlyphs">shGFP</text>
<rect x="382.8" y="24.1" width="6.6" height="6.6" fill="#a13547"/>
<text x="393" y="30.5" font-size="8.9" text-anchor="start" fill="#231f20" stroke="#231f20" stroke-width="0.2" textLength="10.86" lengthAdjust="spacingAndGlyphs">sh3</text>
<rect x="414.1" y="24.1" width="6.6" height="6.6" fill="#d6973f"/>
<text x="423.65" y="30.5" font-size="8.9" text-anchor="start" fill="#231f20" stroke="#231f20" stroke-width="0.2" textLength="11.17" lengthAdjust="spacingAndGlyphs">sh5</text>
<text x="85.6" y="199.1" font-size="9.86" text-anchor="start" fill="#231f20" stroke="#231f20" stroke-width="0.2" textLength="30.56" lengthAdjust="spacingAndGlyphs">JURKAT</text>
<line x1="64.3" y1="205.1" x2="137.9" y2="205.1" stroke="#6e6e6e" stroke-width="1.3"/>
<text x="25.6" y="220.8" font-size="9.43" text-anchor="start" fill="#231f20" stroke="#231f20" stroke-width="0.2" textLength="25.21" lengthAdjust="spacingAndGlyphs">shGFP</text>
<text x="31.7" y="241.3" font-size="9.43" text-anchor="start" fill="#231f20" stroke="#231f20" stroke-width="0.2" textLength="13.52" lengthAdjust="spacingAndGlyphs">sh3</text>
<text x="31.7" y="261.7" font-size="9.43" text-anchor="start" fill="#231f20" stroke="#231f20" stroke-width="0.2" textLength="13.52" lengthAdjust="spacingAndGlyphs">sh5</text>
<line x1="75.3" y1="218.1" x2="80.3" y2="218.1" stroke="#2a2a2a" stroke-width="1.1"/>
<line x1="77.8" y1="215.6" x2="77.8" y2="220.6" stroke="#2a2a2a" stroke-width="1.1"/>
<line x1="101.2" y1="218.1" x2="103.8" y2="218.1" stroke="#333" stroke-width="1.2"/>
<line x1="126.7" y1="218.1" x2="129.3" y2="218.1" stroke="#333" stroke-width="1.2"/>
<line x1="76.5" y1="238.5" x2="79.1" y2="238.5" stroke="#333" stroke-width="1.2"/>
<line x1="100" y1="238.5" x2="105" y2="238.5" stroke="#2a2a2a" stroke-width="1.1"/>
<line x1="102.5" y1="236" x2="102.5" y2="241" stroke="#2a2a2a" stroke-width="1.1"/>
<line x1="126.7" y1="238.5" x2="129.3" y2="238.5" stroke="#333" stroke-width="1.2"/>
<line x1="76.5" y1="259" x2="79.1" y2="259" stroke="#333" stroke-width="1.2"/>
<line x1="101.2" y1="259" x2="103.8" y2="259" stroke="#333" stroke-width="1.2"/>
<line x1="125.5" y1="259" x2="130.5" y2="259" stroke="#2a2a2a" stroke-width="1.1"/>
<line x1="128" y1="256.5" x2="128" y2="261.5" stroke="#2a2a2a" stroke-width="1.1"/>
<g>
<rect x="65.8" y="268.8" width="74.5" height="17.9" fill="#d0d0d0"/>
<filter id="bf1" x="-40%" y="-80%" width="180%" height="260%"><feGaussianBlur stdDeviation="2"/></filter>
<rect x="68" y="272.3" width="20" height="10.9" fill="#acacac" filter="url(#bf1)"/>
<rect x="93" y="272.3" width="20" height="10.9" fill="#acacac" filter="url(#bf1)"/>
<rect x="117.5" y="272.3" width="20.5" height="10.9" fill="#acacac" filter="url(#bf1)"/>
<filter id="bf2" x="-40%" y="-80%" width="180%" height="260%"><feGaussianBlur stdDeviation="1"/></filter>
<path d="M72.83,272.3 Q77.5,272.86 82.17,272.3 Q86.4,272.3 86.4,277 Q86.4,281.7 82.17,281.7 Q77.5,281.14 72.83,281.7 Q68.6,281.7 68.6,277 Q68.6,272.3 72.83,272.3 Z" fill="#0c0c0c" filter="url(#bf2)" opacity="1"/>
<filter id="bf3" x="-40%" y="-80%" width="180%" height="260%"><feGaussianBlur stdDeviation="1.5"/></filter>
<path d="M98.38,273.8 Q103.2,273.8 108.02,273.8 Q111.8,273.8 111.8,278 Q111.8,282.2 108.02,282.2 Q103.2,282.2 98.38,282.2 Q94.6,282.2 94.6,278 Q94.6,273.8 98.38,273.8 Z" fill="#7c7c7c" filter="url(#bf3)" opacity="1"/>
<filter id="bf4" x="-40%" y="-80%" width="180%" height="260%"><feGaussianBlur stdDeviation="1.3"/></filter>
<path d="M123.18,274.4 Q128.3,274.82 133.42,274.4 Q137.2,274.4 137.2,278.6 Q137.2,282.8 133.42,282.8 Q128.3,282.38 123.18,282.8 Q119.4,282.8 119.4,278.6 Q119.4,274.4 123.18,274.4 Z" fill="#434343" filter="url(#bf4)" opacity="1"/>
<rect x="67" y="270" width="72.1" height="15.5" fill="none" stroke="#f2f2f2" stroke-width="0.9" opacity="0.8"/>
<rect x="65.8" y="268.8" width="74.5" height="17.9" fill="none" stroke="#1a1a1a" stroke-width="1.3"/>
</g>
<text x="23.7" y="280.8" font-size="10.28" text-anchor="start" fill="#231f20" stroke="#231f20" stroke-width="0.2" textLength="29.72" lengthAdjust="spacingAndGlyphs">ARID5B</text>
<text x="153.6" y="280.8" font-size="10.28" text-anchor="start" fill="#231f20" stroke="#231f20" stroke-width="0.2" textLength="29.67" lengthAdjust="spacingAndGlyphs">150kDa</text>
<g>
<rect x="65.8" y="291" width="74.5" height="17.8" fill="#e4e4e4"/>
<filter id="bf5" x="-40%" y="-80%" width="180%" height="260%"><feGaussianBlur stdDeviation="2"/></filter>
<rect x="68" y="294.5" width="20" height="10.8" fill="#d2d2d2" filter="url(#bf5)"/>
<rect x="93" y="294.5" width="20" height="10.8" fill="#d2d2d2" filter="url(#bf5)"/>
<rect x="117.5" y="294.5" width="20.5" height="10.8" fill="#d2d2d2" filter="url(#bf5)"/>
<filter id="bf6" x="-40%" y="-80%" width="180%" height="260%"><feGaussianBlur stdDeviation="0.8"/></filter>
<path d="M75.96,293.6 Q79.2,294.62 82.44,293.6 Q88.2,293.6 88.2,300 Q88.2,306.4 82.44,306.4 Q79.2,305.38 75.96,306.4 Q70.2,306.4 70.2,300 Q70.2,293.6 75.96,293.6 Z" fill="#222222" filter="url(#bf6)" opacity="1"/>
<filter id="bf7" x="-40%" y="-80%" width="180%" height="260%"><feGaussianBlur stdDeviation="0.9"/></filter>
<g filter="url(#bf7)"><rect x="98.2" y="297.9" width="11" height="3.4" fill="#444444"/><circle cx="98.2" cy="299.6" r="2.9" fill="#2e2e2e"/><circle cx="109.2" cy="299.6" r="2.9" fill="#2e2e2e"/></g>
<filter id="bf8" x="-40%" y="-80%" width="180%" height="260%"><feGaussianBlur stdDeviation="0.8"/></filter>
<path d="M125.07,293.9 Q129.35,298.14 133.63,293.9 Q138.4,293.9 138.4,299.2 Q138.4,304.5 133.63,304.5 Q129.35,300.26 125.07,304.5 Q120.3,304.5 120.3,299.2 Q120.3,293.9 125.07,293.9 Z" fill="#222222" filter="url(#bf8)" opacity="1"/>
<rect x="67" y="292.2" width="72.1" height="15.4" fill="none" stroke="#f2f2f2" stroke-width="0.9" opacity="0.8"/>
<rect x="65.8" y="291" width="74.5" height="17.8" fill="none" stroke="#1a1a1a" stroke-width="1.3"/>
</g>
<text x="28.8" y="302.7" font-size="10.28" text-anchor="start" fill="#231f20" stroke="#231f20" stroke-width="0.2" textLength="18.47" lengthAdjust="spacingAndGlyphs">TAL1</text>
<text x="152.9" y="302.7" font-size="10.28" text-anchor="start" fill="#231f20" stroke="#231f20" stroke-width="0.2" textLength="25.2" lengthAdjust="spacingAndGlyphs">44kDa</text>
<g>
<rect x="65.8" y="313.7" width="74.5" height="17.3" fill="#e2e2e2"/>
<filter id="bf9" x="-40%" y="-80%" width="180%" height="260%"><feGaussianBlur stdDeviation="2"/></filter>
<rect x="68" y="317.2" width="20" height="10.3" fill="#cfcfcf" filter="url(#bf9)"/>
<rect x="93" y="317.2" width="20" height="10.3" fill="#cfcfcf" filter="url(#bf9)"/>
<rect x="117.5" y="317.2" width="20.5" height="10.3" fill="#cfcfcf" filter="url(#bf9)"/>
<filter id="bf10" x="-40%" y="-80%" width="180%" height="260%"><feGaussianBlur stdDeviation="0.8"/></filter>
<path d="M73.75,317.5 Q79.95,318.6 86.15,317.5 Q91.1,317.5 91.1,323 Q91.1,328.5 86.15,328.5 Q79.95,327.4 73.75,328.5 Q68.8,328.5 68.8,323 Q68.8,317.5 73.75,317.5 Z" fill="#202020" filter="url(#bf10)" opacity="1"/>
<filter id="bf11" x="-40%" y="-80%" width="180%" height="260%"><feGaussianBlur stdDeviation="0.85"/></filter>
<g filter="url(#bf11)"><rect x="98.8" y="321.4" width="10.5" height="2.8" fill="#484848"/><circle cx="98.8" cy="322.8" r="2.5" fill="#2e2e2e"/><circle cx="109.3" cy="322.8" r="2.5" fill="#2e2e2e"/></g>
<filter id="bf12" x="-40%" y="-80%" width="180%" height="260%"><feGaussianBlur stdDeviation="0.8"/></filter>
<path d="M122.14,318.7 Q127.5,322.38 132.86,318.7 Q137,318.7 137,323.3 Q137,327.9 132.86,327.9 Q127.5,324.22 122.14,327.9 Q118,327.9 118,323.3 Q118,318.7 122.14,318.7 Z" fill="#202020" filter="url(#bf12)" opacity="1"/>
<rect x="67" y="314.9" width="72.1" height="14.9" fill="none" stroke="#f2f2f2" stroke-width="0.9" opacity="0.8"/>
<rect x="65.8" y="313.7" width="74.5" height="17.3" fill="none" stroke="#1a1a1a" stroke-width="1.3"/>
</g>
<text x="25.4" y="325.4" font-size="10.28" text-anchor="start" fill="#231f20" stroke="#231f20" stroke-width="0.2" textLength="26.2" lengthAdjust="spacingAndGlyphs">GATA3</text>
<text x="152.9" y="325.4" font-size="10.28" text-anchor="start" fill="#231f20" stroke="#231f20" stroke-width="0.2" textLength="25.2" lengthAdjust="spacingAndGlyphs">48kDa</text>
<g>
<rect x="65.8" y="335.7" width="74.5" height="17.2" fill="#dcdcdc"/>
<filter id="bf13" x="-40%" y="-80%" width="180%" height="260%"><feGaussianBlur stdDeviation="2"/></filter>
<rect x="68" y="339.2" width="20" height="10.2" fill="#cacaca" filter="url(#bf13)"/>
<rect x="93" y="339.2" width="20" height="10.2" fill="#cacaca" filter="url(#bf13)"/>
<rect x="117.5" y="339.2" width="20.5" height="10.2" fill="#cacaca" filter="url(#bf13)"/>
<filter id="bf14" x="-40%" y="-80%" width="180%" height="260%"><feGaussianBlur stdDeviation="0.8"/></filter>
<path d="M72.46,338.4 Q77.5,338.94 82.54,338.4 Q87.4,338.4 87.4,343.8 Q87.4,349.2 82.54,349.2 Q77.5,348.66 72.46,349.2 Q67.6,349.2 67.6,343.8 Q67.6,338.4 72.46,338.4 Z" fill="#141414" filter="url(#bf14)" opacity="1"/>
<filter id="bf15" x="-40%" y="-80%" width="180%" height="260%"><feGaussianBlur stdDeviation="0.8"/></filter>
<g filter="url(#bf15)"><rect x="98" y="342.9" width="11.5" height="2.2" fill="#b8b8b8"/><circle cx="98" cy="344" r="1.8" fill="#9a9a9a"/><circle cx="109.5" cy="344" r="1.8" fill="#9a9a9a"/></g>
<filter id="bf16" x="-40%" y="-80%" width="180%" height="260%"><feGaussianBlur stdDeviation="0.8"/></filter>
<g filter="url(#bf16)"><rect x="119.5" y="342.4" width="14" height="2.8" fill="#a8a8a8"/><circle cx="119.5" cy="343.8" r="2" fill="#8a8a8a"/><circle cx="133.5" cy="343.8" r="2" fill="#8a8a8a"/></g>
<rect x="67" y="336.9" width="72.1" height="14.8" fill="none" stroke="#f2f2f2" stroke-width="0.9" opacity="0.8"/>
<rect x="65.8" y="335.7" width="74.5" height="17.2" fill="none" stroke="#1a1a1a" stroke-width="1.3"/>
</g>
<text x="29.6" y="349" font-size="10.28" text-anchor="start" fill="#231f20" stroke="#231f20" stroke-width="0.2" textLength="17.88" lengthAdjust="spacingAndGlyphs">MYB</text>
<text x="153.3" y="349" font-size="10.28" text-anchor="start" fill="#231f20" stroke="#231f20" stroke-width="0.2" textLength="24.8" lengthAdjust="spacingAndGlyphs">80kDa</text>
<g>
<rect x="65.8" y="357.1" width="74.5" height="17.8" fill="#cfcfcf"/>
<filter id="bf17" x="-40%" y="-80%" width="180%" height="260%"><feGaussianBlur stdDeviation="2"/></filter>
<rect x="68" y="360.6" width="20" height="10.8" fill="#b0b0b0" filter="url(#bf17)"/>
<rect x="93" y="360.6" width="20" height="10.8" fill="#b0b0b0" filter="url(#bf17)"/>
<rect x="117.5" y="360.6" width="20.5" height="10.8" fill="#b0b0b0" filter="url(#bf17)"/>
<filter id="bf18" x="-40%" y="-80%" width="180%" height="260%"><feGaussianBlur stdDeviation="1"/></filter>
<path d="M73.57,359.5 Q78.4,359.5 83.23,359.5 Q88.9,359.5 88.9,365.8 Q88.9,372.1 83.23,372.1 Q78.4,372.1 73.57,372.1 Q67.9,372.1 67.9,365.8 Q67.9,359.5 73.57,359.5 Z" fill="#262626" filter="url(#bf18)" opacity="1"/>
<filter id="bf19" x="-40%" y="-80%" width="180%" height="260%"><feGaussianBlur stdDeviation="1"/></filter>
<path d="M98.17,359.5 Q103,359.5 107.83,359.5 Q113.5,359.5 113.5,365.8 Q113.5,372.1 107.83,372.1 Q103,372.1 98.17,372.1 Q92.5,372.1 92.5,365.8 Q92.5,359.5 98.17,359.5 Z" fill="#262626" filter="url(#bf19)" opacity="1"/>
<filter id="bf20" x="-40%" y="-80%" width="180%" height="260%"><feGaussianBlur stdDeviation="1"/></filter>
<path d="M121.97,359.5 Q126.8,359.5 131.63,359.5 Q137.3,359.5 137.3,365.8 Q137.3,372.1 131.63,372.1 Q126.8,372.1 121.97,372.1 Q116.3,372.1 116.3,365.8 Q116.3,359.5 121.97,359.5 Z" fill="#262626" filter="url(#bf20)" opacity="1"/>
<rect x="66.5" y="358.3" width="72" height="15.4" fill="none" stroke="#f2f2f2" stroke-width="0.9" opacity="0.8"/>
<rect x="65.3" y="357.1" width="74.4" height="17.8" fill="none" stroke="#1a1a1a" stroke-width="1.3"/>
</g>
<text x="24.3" y="370.6" font-size="10.28" text-anchor="start" fill="#231f20" stroke="#231f20" stroke-width="0.2" textLength="27.6" lengthAdjust="spacingAndGlyphs">RUNX1</text>
<text x="153.3" y="370.6" font-size="10.28" text-anchor="start" fill="#231f20" stroke="#231f20" stroke-width="0.2" textLength="24.8" lengthAdjust="spacingAndGlyphs">55kDa</text>
<g>
<rect x="65.8" y="380.7" width="74.5" height="17.9" fill="#dadada"/>
<filter id="bf21" x="-40%" y="-80%" width="180%" height="260%"><feGaussianBlur stdDeviation="2"/></filter>
<rect x="68" y="384.2" width="20" height="10.9" fill="#c8c8c8" filter="url(#bf21)"/>
<rect x="93" y="384.2" width="20" height="10.9" fill="#c8c8c8" filter="url(#bf21)"/>
<rect x="117.5" y="384.2" width="20.5" height="10.9" fill="#c8c8c8" filter="url(#bf21)"/>
<filter id="bf22" x="-40%" y="-80%" width="180%" height="260%"><feGaussianBlur stdDeviation="0.6"/></filter>
<path d="M71.11,386.2 Q77.2,386.59 83.29,386.2 Q86.8,386.2 86.8,390.1 Q86.8,394 83.29,394 Q77.2,393.61 71.11,394 Q67.6,394 67.6,390.1 Q67.6,386.2 71.11,386.2 Z" fill="#141414" filter="url(#bf22)" opacity="1"/>
<filter id="bf23" x="-40%" y="-80%" width="180%" height="260%"><feGaussianBlur stdDeviation="0.6"/></filter>
<path d="M94.21,386.2 Q100.7,386.59 107.19,386.2 Q110.7,386.2 110.7,390.1 Q110.7,394 107.19,394 Q100.7,393.61 94.21,394 Q90.7,394 90.7,390.1 Q90.7,386.2 94.21,386.2 Z" fill="#141414" filter="url(#bf23)" opacity="1"/>
<filter id="bf24" x="-40%" y="-80%" width="180%" height="260%"><feGaussianBlur stdDeviation="0.6"/></filter>
<path d="M119.51,386.2 Q126.25,386.59 132.99,386.2 Q136.5,386.2 136.5,390.1 Q136.5,394 132.99,394 Q126.25,393.61 119.51,394 Q116,394 116,390.1 Q116,386.2 119.51,386.2 Z" fill="#141414" filter="url(#bf24)" opacity="1"/>
<rect x="67" y="381.9" width="72.1" height="15.5" fill="none" stroke="#f2f2f2" stroke-width="0.9" opacity="0.8"/>
<rect x="65.8" y="380.7" width="74.5" height="17.9" fill="none" stroke="#1a1a1a" stroke-width="1.3"/>
</g>
<text x="18.9" y="392.6" font-size="11.13" text-anchor="start" fill="#231f20" stroke="#231f20" stroke-width="0.2" textLength="5.44" lengthAdjust="spacingAndGlyphs" font-family="Liberation Serif" font-style="italic">α</text>
<text x="25.2" y="392.6" font-size="10.28" text-anchor="start" fill="#231f20" stroke="#231f20" stroke-width="0.2" textLength="32.5" lengthAdjust="spacingAndGlyphs">-tubulin</text>
<text x="153.3" y="392.6" font-size="10.28" text-anchor="start" fill="#231f20" stroke="#231f20" stroke-width="0.2" textLength="24.8" lengthAdjust="spacingAndGlyphs">55kDa</text>
<line x1="49" y1="459.7" x2="49" y2="583" stroke="#555555" stroke-width="1.9"/>
<line x1="49" y1="580" x2="153.6" y2="580" stroke="#231f20" stroke-width="1.4"/>
<line x1="100" y1="580" x2="100" y2="583" stroke="#231f20" stroke-width="1"/>
<line x1="150.4" y1="580" x2="150.4" y2="583" stroke="#231f20" stroke-width="1"/>
<line x1="45.7" y1="580" x2="49" y2="580" stroke="#231f20" stroke-width="1"/>
<text x="43.2" y="582.8" font-size="8.27" text-anchor="end" fill="#231f20" stroke="#231f20" stroke-width="0.2" textLength="3.9" lengthAdjust="spacingAndGlyphs">0</text>
<line x1="45.7" y1="568.28" x2="49" y2="568.28" stroke="#231f20" stroke-width="1"/>
<text x="43.2" y="571.08" font-size="8.27" text-anchor="end" fill="#231f20" stroke="#231f20" stroke-width="0.2" textLength="9.76" lengthAdjust="spacingAndGlyphs">0.2</text>
<line x1="45.7" y1="556.56" x2="49" y2="556.56" stroke="#231f20" stroke-width="1"/>
<text x="43.2" y="559.36" font-size="8.27" text-anchor="end" fill="#231f20" stroke="#231f20" stroke-width="0.2" textLength="9.76" lengthAdjust="spacingAndGlyphs">0.4</text>
<line x1="45.7" y1="544.84" x2="49" y2="544.84" stroke="#231f20" stroke-width="1"/>
<text x="43.2" y="547.64" font-size="8.27" text-anchor="end" fill="#231f20" stroke="#231f20" stroke-width="0.2" textLength="9.76" lengthAdjust="spacingAndGlyphs">0.6</text>
<line x1="45.7" y1="533.12" x2="49" y2="533.12" stroke="#231f20" stroke-width="1"/>
<text x="43.2" y="535.92" font-size="8.27" text-anchor="end" fill="#231f20" stroke="#231f20" stroke-width="0.2" textLength="9.76" lengthAdjust="spacingAndGlyphs">0.8</text>
<line x1="45.7" y1="521.4" x2="49" y2="521.4" stroke="#231f20" stroke-width="1"/>
<text x="43.2" y="524.2" font-size="8.27" text-anchor="end" fill="#231f20" stroke="#231f20" stroke-width="0.2" textLength="3.9" lengthAdjust="spacingAndGlyphs">1</text>
<line x1="45.7" y1="509.68" x2="49" y2="509.68" stroke="#231f20" stroke-width="1"/>
<text x="43.2" y="512.48" font-size="8.27" text-anchor="end" fill="#231f20" stroke="#231f20" stroke-width="0.2" textLength="9.76" lengthAdjust="spacingAndGlyphs">1.2</text>
<line x1="45.7" y1="497.96" x2="49" y2="497.96" stroke="#231f20" stroke-width="1"/>
<text x="43.2" y="500.76" font-size="8.27" text-anchor="end" fill="#231f20" stroke="#231f20" stroke-width="0.2" textLength="9.76" lengthAdjust="spacingAndGlyphs">1.4</text>
<line x1="45.7" y1="486.24" x2="49" y2="486.24" stroke="#231f20" stroke-width="1"/>
<text x="43.2" y="489.04" font-size="8.27" text-anchor="end" fill="#231f20" stroke="#231f20" stroke-width="0.2" textLength="9.76" lengthAdjust="spacingAndGlyphs">1.6</text>
<line x1="45.7" y1="474.52" x2="49" y2="474.52" stroke="#231f20" stroke-width="1"/>
<text x="43.2" y="477.32" font-size="8.27" text-anchor="end" fill="#231f20" stroke="#231f20" stroke-width="0.2" textLength="9.76" lengthAdjust="spacingAndGlyphs">1.8</text>
<line x1="45.7" y1="462.8" x2="49" y2="462.8" stroke="#231f20" stroke-width="1"/>
<text x="43.2" y="465.6" font-size="8.27" text-anchor="end" fill="#231f20" stroke="#231f20" stroke-width="0.2" textLength="3.9" lengthAdjust="spacingAndGlyphs">2</text>
<rect x="108.2" y="480.67" width="11.3" height="99.33" fill="#4c6285" stroke="#3e5680" stroke-width="0.6"/>
<line x1="113.85" y1="477.86" x2="113.85" y2="483.49" stroke="#231f20" stroke-width="0.9"/>
<line x1="111.85" y1="477.86" x2="115.85" y2="477.86" stroke="#231f20" stroke-width="0.9"/>
<line x1="111.85" y1="483.49" x2="115.85" y2="483.49" stroke="#231f20" stroke-width="0.9"/>
<rect x="119.5" y="520.99" width="11.3" height="59.01" fill="#a13547" stroke="#952c40" stroke-width="0.6"/>
<line x1="125.15" y1="517.71" x2="125.15" y2="524.27" stroke="#231f20" stroke-width="0.9"/>
<line x1="123.15" y1="517.71" x2="127.15" y2="517.71" stroke="#231f20" stroke-width="0.9"/>
<line x1="123.15" y1="524.27" x2="127.15" y2="524.27" stroke="#231f20" stroke-width="0.9"/>
<rect x="130.8" y="526.38" width="11.3" height="53.62" fill="#d6973f" stroke="#d08a2c" stroke-width="0.6"/>
<line x1="136.45" y1="522.98" x2="136.45" y2="529.78" stroke="#231f20" stroke-width="0.9"/>
<line x1="134.45" y1="522.98" x2="138.45" y2="522.98" stroke="#231f20" stroke-width="0.9"/>
<line x1="134.45" y1="529.78" x2="138.45" y2="529.78" stroke="#231f20" stroke-width="0.9"/>
<line x1="111" y1="463.5" x2="137.9" y2="463.5" stroke="#2e2e2e" stroke-width="1"/>
<circle cx="122.6" cy="459.4" r="1.25" fill="#3a3a3a"/>
<circle cx="126.3" cy="459.4" r="1.25" fill="#3a3a3a"/>
<line x1="111" y1="473.1" x2="124.4" y2="473.1" stroke="#5e5e5e" stroke-width="1.6"/>
<circle cx="115.85" cy="469" r="1.25" fill="#3a3a3a"/>
<circle cx="119.55" cy="469" r="1.25" fill="#3a3a3a"/>
<text x="68.9" y="593.1" font-size="8.06" text-anchor="start" fill="#231f20" stroke="#231f20" stroke-width="0.2" textLength="12.01" lengthAdjust="spacingAndGlyphs">IgG</text>
<text x="108.8" y="592.6" font-size="8.06" text-anchor="start" fill="#231f20" stroke="#231f20" stroke-width="0.2" textLength="32.81" lengthAdjust="spacingAndGlyphs">Anti-TAL1</text>
<text x="117.8" y="602.3" font-size="8.06" text-anchor="start" fill="#231f20" stroke="#231f20" stroke-width="0.2" textLength="15.32" lengthAdjust="spacingAndGlyphs">ChIP</text>
<text x="26" y="520.1" font-size="9.33" text-anchor="middle" fill="#231f20" stroke="#231f20" stroke-width="0.2" transform="rotate(-90 26 520.1)" textLength="79.7" lengthAdjust="spacingAndGlyphs">Percentage of input</text>
<line x1="195.5" y1="459.2" x2="195.5" y2="583" stroke="#231f20" stroke-width="1"/>
<line x1="195.5" y1="580" x2="299.7" y2="580" stroke="#231f20" stroke-width="1.4"/>
<line x1="246.6" y1="580" x2="246.6" y2="583" stroke="#231f20" stroke-width="1"/>
<line x1="297.4" y1="580" x2="297.4" y2="583" stroke="#231f20" stroke-width="1"/>
<line x1="192.2" y1="580" x2="195.5" y2="580" stroke="#231f20" stroke-width="1"/>
<text x="189.3" y="582.8" font-size="8.27" text-anchor="end" fill="#231f20" stroke="#231f20" stroke-width="0.2" textLength="3.9" lengthAdjust="spacingAndGlyphs">0</text>
<line x1="192.2" y1="568.28" x2="195.5" y2="568.28" stroke="#231f20" stroke-width="1"/>
<text x="189.3" y="571.08" font-size="8.27" text-anchor="end" fill="#231f20" stroke="#231f20" stroke-width="0.2" textLength="17.57" lengthAdjust="spacingAndGlyphs">0.005</text>
<line x1="192.2" y1="556.56" x2="195.5" y2="556.56" stroke="#231f20" stroke-width="1"/>
<text x="189.3" y="559.36" font-size="8.27" text-anchor="end" fill="#231f20" stroke="#231f20" stroke-width="0.2" textLength="13.66" lengthAdjust="spacingAndGlyphs">0.01</text>
<line x1="192.2" y1="544.84" x2="195.5" y2="544.84" stroke="#231f20" stroke-width="1"/>
<text x="189.3" y="547.64" font-size="8.27" text-anchor="end" fill="#231f20" stroke="#231f20" stroke-width="0.2" textLength="17.57" lengthAdjust="spacingAndGlyphs">0.015</text>
<line x1="192.2" y1="533.12" x2="195.5" y2="533.12" stroke="#231f20" stroke-width="1"/>
<text x="189.3" y="535.92" font-size="8.27" text-anchor="end" fill="#231f20" stroke="#231f20" stroke-width="0.2" textLength="13.66" lengthAdjust="spacingAndGlyphs">0.02</text>
<line x1="192.2" y1="521.4" x2="195.5" y2="521.4" stroke="#231f20" stroke-width="1"/>
<text x="189.3" y="524.2" font-size="8.27" text-anchor="end" fill="#231f20" stroke="#231f20" stroke-width="0.2" textLength="17.57" lengthAdjust="spacingAndGlyphs">0.025</text>
<line x1="192.2" y1="509.68" x2="195.5" y2="509.68" stroke="#231f20" stroke-width="1"/>
<text x="189.3" y="512.48" font-size="8.27" text-anchor="end" fill="#231f20" stroke="#231f20" stroke-width="0.2" textLength="13.66" lengthAdjust="spacingAndGlyphs">0.03</text>
<line x1="192.2" y1="497.96" x2="195.5" y2="497.96" stroke="#231f20" stroke-width="1"/>
<text x="189.3" y="500.76" font-size="8.27" text-anchor="end" fill="#231f20" stroke="#231f20" stroke-width="0.2" textLength="17.57" lengthAdjust="spacingAndGlyphs">0.035</text>
<line x1="192.2" y1="486.24" x2="195.5" y2="486.24" stroke="#231f20" stroke-width="1"/>
<text x="189.3" y="489.04" font-size="8.27" text-anchor="end" fill="#231f20" stroke="#231f20" stroke-width="0.2" textLength="13.66" lengthAdjust="spacingAndGlyphs">0.04</text>
<line x1="192.2" y1="474.52" x2="195.5" y2="474.52" stroke="#231f20" stroke-width="1"/>
<text x="189.3" y="477.32" font-size="8.27" text-anchor="end" fill="#231f20" stroke="#231f20" stroke-width="0.2" textLength="17.57" lengthAdjust="spacingAndGlyphs">0.045</text>
<line x1="192.2" y1="462.8" x2="195.5" y2="462.8" stroke="#231f20" stroke-width="1"/>
<text x="189.3" y="465.6" font-size="8.27" text-anchor="end" fill="#231f20" stroke="#231f20" stroke-width="0.2" textLength="13.66" lengthAdjust="spacingAndGlyphs">0.05</text>
<rect x="203.8" y="578.83" width="11.3" height="1.17" fill="#4c6285" stroke="#3e5680" stroke-width="0.6"/>
<line x1="209.45" y1="578.36" x2="209.45" y2="579.3" stroke="#231f20" stroke-width="0.9"/>
<line x1="207.45" y1="578.36" x2="211.45" y2="578.36" stroke="#231f20" stroke-width="0.9"/>
<line x1="207.45" y1="579.3" x2="211.45" y2="579.3" stroke="#231f20" stroke-width="0.9"/>
<rect x="215.1" y="578.59" width="11.3" height="1.41" fill="#a13547" stroke="#952c40" stroke-width="0.6"/>
<line x1="220.75" y1="578.12" x2="220.75" y2="579.06" stroke="#231f20" stroke-width="0.9"/>
<line x1="218.75" y1="578.12" x2="222.75" y2="578.12" stroke="#231f20" stroke-width="0.9"/>
<line x1="218.75" y1="579.06" x2="222.75" y2="579.06" stroke="#231f20" stroke-width="0.9"/>
<rect x="226.4" y="577.42" width="11.3" height="2.58" fill="#d6973f" stroke="#d08a2c" stroke-width="0.6"/>
<line x1="232.05" y1="576.48" x2="232.05" y2="578.36" stroke="#231f20" stroke-width="0.9"/>
<line x1="230.05" y1="576.48" x2="234.05" y2="576.48" stroke="#231f20" stroke-width="0.9"/>
<line x1="230.05" y1="578.36" x2="234.05" y2="578.36" stroke="#231f20" stroke-width="0.9"/>
<rect x="254.9" y="483.66" width="11.3" height="96.34" fill="#4c6285" stroke="#3e5680" stroke-width="0.6"/>
<line x1="260.55" y1="473.58" x2="260.55" y2="493.74" stroke="#231f20" stroke-width="0.9"/>
<line x1="258.55" y1="473.58" x2="262.55" y2="473.58" stroke="#231f20" stroke-width="0.9"/>
<line x1="258.55" y1="493.74" x2="262.55" y2="493.74" stroke="#231f20" stroke-width="0.9"/>
<rect x="266.2" y="547.18" width="11.3" height="32.82" fill="#a13547" stroke="#952c40" stroke-width="0.6"/>
<line x1="271.85" y1="545.31" x2="271.85" y2="549.06" stroke="#231f20" stroke-width="0.9"/>
<line x1="269.85" y1="545.31" x2="273.85" y2="545.31" stroke="#231f20" stroke-width="0.9"/>
<line x1="269.85" y1="549.06" x2="273.85" y2="549.06" stroke="#231f20" stroke-width="0.9"/>
<rect x="277.5" y="518.12" width="11.3" height="61.88" fill="#d6973f" stroke="#d08a2c" stroke-width="0.6"/>
<line x1="283.15" y1="514.13" x2="283.15" y2="522.1" stroke="#231f20" stroke-width="0.9"/>
<line x1="281.15" y1="514.13" x2="285.15" y2="514.13" stroke="#231f20" stroke-width="0.9"/>
<line x1="281.15" y1="522.1" x2="285.15" y2="522.1" stroke="#231f20" stroke-width="0.9"/>
<line x1="259.4" y1="460.8" x2="285.8" y2="460.8" stroke="#2e2e2e" stroke-width="1"/>
<circle cx="270.75" cy="456.8" r="1.25" fill="#3a3a3a"/>
<circle cx="274.45" cy="456.8" r="1.25" fill="#3a3a3a"/>
<line x1="259.4" y1="470.1" x2="272.9" y2="470.1" stroke="#5e5e5e" stroke-width="1.6"/>
<circle cx="264.3" cy="466.5" r="1.25" fill="#3a3a3a"/>
<circle cx="268" cy="466.5" r="1.25" fill="#3a3a3a"/>
<text x="214.9" y="592.8" font-size="8.06" text-anchor="start" fill="#231f20" stroke="#231f20" stroke-width="0.2" textLength="12.11" lengthAdjust="spacingAndGlyphs">IgG</text>
<text x="251.9" y="592.6" font-size="8.06" text-anchor="start" fill="#231f20" stroke="#231f20" stroke-width="0.2" textLength="39.67" lengthAdjust="spacingAndGlyphs">Anti-GATA3</text>
<text x="263.9" y="602.3" font-size="8.06" text-anchor="start" fill="#231f20" stroke="#231f20" stroke-width="0.2" textLength="16.12" lengthAdjust="spacingAndGlyphs">ChIP</text>
<line x1="337.5" y1="455.4" x2="337.5" y2="583" stroke="#231f20" stroke-width="1"/>
<line x1="337.5" y1="580" x2="441.9" y2="580" stroke="#231f20" stroke-width="1.4"/>
<line x1="388.3" y1="580" x2="388.3" y2="583" stroke="#231f20" stroke-width="1"/>
<line x1="438.8" y1="580" x2="438.8" y2="583" stroke="#231f20" stroke-width="1"/>
<line x1="334.2" y1="580" x2="337.5" y2="580" stroke="#231f20" stroke-width="1"/>
<text x="330.8" y="582.8" font-size="8.27" text-anchor="end" fill="#231f20" stroke="#231f20" stroke-width="0.2" textLength="3.9" lengthAdjust="spacingAndGlyphs">0</text>
<line x1="334.2" y1="559.65" x2="337.5" y2="559.65" stroke="#231f20" stroke-width="1"/>
<text x="330.8" y="562.45" font-size="8.27" text-anchor="end" fill="#231f20" stroke="#231f20" stroke-width="0.2" textLength="13.66" lengthAdjust="spacingAndGlyphs">0.02</text>
<line x1="334.2" y1="539.3" x2="337.5" y2="539.3" stroke="#231f20" stroke-width="1"/>
<text x="330.8" y="542.1" font-size="8.27" text-anchor="end" fill="#231f20" stroke="#231f20" stroke-width="0.2" textLength="13.66" lengthAdjust="spacingAndGlyphs">0.04</text>
<line x1="334.2" y1="518.95" x2="337.5" y2="518.95" stroke="#231f20" stroke-width="1"/>
<text x="330.8" y="521.75" font-size="8.27" text-anchor="end" fill="#231f20" stroke="#231f20" stroke-width="0.2" textLength="13.66" lengthAdjust="spacingAndGlyphs">0.06</text>
<line x1="334.2" y1="498.6" x2="337.5" y2="498.6" stroke="#231f20" stroke-width="1"/>
<text x="330.8" y="501.4" font-size="8.27" text-anchor="end" fill="#231f20" stroke="#231f20" stroke-width="0.2" textLength="13.66" lengthAdjust="spacingAndGlyphs">0.08</text>
<line x1="334.2" y1="478.25" x2="337.5" y2="478.25" stroke="#231f20" stroke-width="1"/>
<text x="330.8" y="481.05" font-size="8.27" text-anchor="end" fill="#231f20" stroke="#231f20" stroke-width="0.2" textLength="9.76" lengthAdjust="spacingAndGlyphs">0.1</text>
<line x1="334.2" y1="457.9" x2="337.5" y2="457.9" stroke="#231f20" stroke-width="1"/>
<text x="330.8" y="460.7" font-size="8.27" text-anchor="end" fill="#231f20" stroke="#231f20" stroke-width="0.2" textLength="13.66" lengthAdjust="spacingAndGlyphs">0.12</text>
<rect x="346.2" y="579.29" width="11.3" height="0.71" fill="#4c6285" stroke="#3e5680" stroke-width="0.6"/>
<line x1="351.85" y1="578.98" x2="351.85" y2="579.59" stroke="#231f20" stroke-width="0.9"/>
<line x1="349.85" y1="578.98" x2="353.85" y2="578.98" stroke="#231f20" stroke-width="0.9"/>
<line x1="349.85" y1="579.59" x2="353.85" y2="579.59" stroke="#231f20" stroke-width="0.9"/>
<rect x="357.5" y="579.08" width="11.3" height="0.92" fill="#a13547" stroke="#952c40" stroke-width="0.6"/>
<line x1="363.15" y1="578.78" x2="363.15" y2="579.39" stroke="#231f20" stroke-width="0.9"/>
<line x1="361.15" y1="578.78" x2="365.15" y2="578.78" stroke="#231f20" stroke-width="0.9"/>
<line x1="361.15" y1="579.39" x2="365.15" y2="579.39" stroke="#231f20" stroke-width="0.9"/>
<rect x="368.8" y="579.08" width="11.3" height="0.92" fill="#d6973f" stroke="#d08a2c" stroke-width="0.6"/>
<line x1="374.45" y1="578.78" x2="374.45" y2="579.39" stroke="#231f20" stroke-width="0.9"/>
<line x1="372.45" y1="578.78" x2="376.45" y2="578.78" stroke="#231f20" stroke-width="0.9"/>
<line x1="372.45" y1="579.39" x2="376.45" y2="579.39" stroke="#231f20" stroke-width="0.9"/>
<rect x="396.8" y="483.44" width="11.3" height="96.56" fill="#4c6285" stroke="#3e5680" stroke-width="0.6"/>
<line x1="402.45" y1="468.58" x2="402.45" y2="498.29" stroke="#231f20" stroke-width="0.9"/>
<line x1="400.45" y1="468.58" x2="404.45" y2="468.58" stroke="#231f20" stroke-width="0.9"/>
<line x1="400.45" y1="498.29" x2="404.45" y2="498.29" stroke="#231f20" stroke-width="0.9"/>
<rect x="408.1" y="526.17" width="11.3" height="53.83" fill="#a13547" stroke="#952c40" stroke-width="0.6"/>
<line x1="413.75" y1="522.82" x2="413.75" y2="529.53" stroke="#231f20" stroke-width="0.9"/>
<line x1="411.75" y1="522.82" x2="415.75" y2="522.82" stroke="#231f20" stroke-width="0.9"/>
<line x1="411.75" y1="529.53" x2="415.75" y2="529.53" stroke="#231f20" stroke-width="0.9"/>
<rect x="419.4" y="540.01" width="11.3" height="39.99" fill="#d6973f" stroke="#d08a2c" stroke-width="0.6"/>
<line x1="425.05" y1="537.67" x2="425.05" y2="542.35" stroke="#231f20" stroke-width="0.9"/>
<line x1="423.05" y1="537.67" x2="427.05" y2="537.67" stroke="#231f20" stroke-width="0.9"/>
<line x1="423.05" y1="542.35" x2="427.05" y2="542.35" stroke="#231f20" stroke-width="0.9"/>
<line x1="401.5" y1="455.4" x2="427.7" y2="455.4" stroke="#2e2e2e" stroke-width="1"/>
<circle cx="412.75" cy="451.5" r="1.25" fill="#3a3a3a"/>
<circle cx="416.45" cy="451.5" r="1.25" fill="#3a3a3a"/>
<line x1="401.5" y1="465" x2="414.6" y2="465" stroke="#5e5e5e" stroke-width="1.6"/>
<circle cx="408.05" cy="460.8" r="1.25" fill="#3a3a3a"/>
<text x="356.9" y="592.8" font-size="8.06" text-anchor="start" fill="#231f20" stroke="#231f20" stroke-width="0.2" textLength="12.71" lengthAdjust="spacingAndGlyphs">IgG</text>
<text x="393.4" y="592.6" font-size="8.06" text-anchor="start" fill="#231f20" stroke="#231f20" stroke-width="0.2" textLength="40.37" lengthAdjust="spacingAndGlyphs">Anti-RUNX1</text>
<text x="405.4" y="602.3" font-size="8.06" text-anchor="start" fill="#231f20" stroke="#231f20" stroke-width="0.2" textLength="16.22" lengthAdjust="spacingAndGlyphs">ChIP</text>
<rect x="201.1" y="432.1" width="6.6" height="6.6" fill="#4c6285"/>
<text x="210.75" y="438.5" font-size="8.9" text-anchor="start" fill="#231f20" stroke="#231f20" stroke-width="0.2" textLength="20.21" lengthAdjust="spacingAndGlyphs">shGFP</text>
<rect x="242.2" y="432.1" width="6.6" height="6.6" fill="#a13547"/>
<text x="252.4" y="438.5" font-size="8.9" text-anchor="start" fill="#231f20" stroke="#231f20" stroke-width="0.2" textLength="10.86" lengthAdjust="spacingAndGlyphs">sh3</text>
<rect x="273.5" y="432.1" width="6.6" height="6.6" fill="#d6973f"/>
<text x="283.05" y="438.5" font-size="8.9" text-anchor="start" fill="#231f20" stroke="#231f20" stroke-width="0.2" textLength="11.17" lengthAdjust="spacingAndGlyphs">sh5</text>
</g>
<rect x="0" y="0" width="520" height="1.35" fill="#474747"/>
<rect x="0" y="1" width="1" height="611" fill="#111111"/>
<rect x="518.3" y="0" width="1.7" height="612" fill="#454545"/>
<rect x="0" y="610" width="520" height="2" fill="#4a4a4a"/>
</svg></body></html>
